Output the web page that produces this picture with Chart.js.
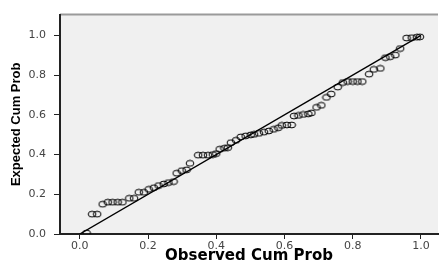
<!DOCTYPE html>
<html>
<head>
<meta charset="utf-8">
<script src="https://cdn.jsdelivr.net/npm/chart.js@4"></script>
<style>
  html, body { margin: 0; padding: 0; background: #fff; }
  #wrap { width: 443px; height: 264px; }
</style>
</head>
<body>
<div id="wrap"><canvas id="ppChart"></canvas></div>
<script>
// observed vs expected cumulative probability
const observedCumProb = [
  0.020, 0.036, 0.051, 0.067, 0.082, 0.096, 0.111, 0.125, 0.145, 0.159,
  0.173, 0.188, 0.202, 0.217, 0.231, 0.246, 0.260, 0.275, 0.284, 0.299,
  0.313, 0.323, 0.347, 0.361, 0.376, 0.390, 0.400, 0.410, 0.424, 0.434,
  0.443, 0.458, 0.472, 0.486, 0.501, 0.511, 0.525, 0.540, 0.554, 0.568,
  0.582, 0.592, 0.607, 0.621, 0.628, 0.641, 0.655, 0.670, 0.679, 0.694,
  0.708, 0.723, 0.737, 0.756, 0.771, 0.785, 0.800, 0.814, 0.828, 0.848,
  0.862, 0.881, 0.896, 0.910, 0.925, 0.939, 0.958, 0.973, 0.988, 0.997
];
const expectedCumProb = [
  0.005, 0.100, 0.100, 0.150, 0.160, 0.160, 0.160, 0.160, 0.180, 0.180,
  0.210, 0.210, 0.225, 0.233, 0.244, 0.252, 0.259, 0.264, 0.306, 0.319,
  0.323, 0.356, 0.397, 0.397, 0.397, 0.400, 0.405, 0.427, 0.432, 0.435,
  0.460, 0.472, 0.489, 0.494, 0.499, 0.502, 0.507, 0.513, 0.519, 0.527,
  0.535, 0.547, 0.549, 0.549, 0.594, 0.597, 0.602, 0.605, 0.610, 0.638,
  0.648, 0.688, 0.705, 0.740, 0.763, 0.768, 0.768, 0.768, 0.768, 0.805,
  0.829, 0.834, 0.888, 0.893, 0.901, 0.934, 0.987, 0.989, 0.991, 0.993
];
const refLineX = [0, 1];
const refLineY = [0, 1];
const tickValues = [0, 0.2, 0.4, 0.6, 0.8, 1.0];

const points = observedCumProb.map((x, i) => ({ x: x, y: expectedCumProb[i] }));
const refLine = refLineX.map((x, i) => ({ x: x, y: refLineY[i] }));

// hollow, slightly flattened circle like the SPSS marker
const marker = document.createElement('canvas');
marker.width = 10;
marker.height = 8;
const mctx = marker.getContext('2d');
mctx.strokeStyle = '#000';
mctx.lineWidth = 1;
mctx.beginPath();
mctx.ellipse(5, 4, 3.9, 2.9, 0, 0, Math.PI * 2);
mctx.stroke();

// grey plot background and the thin grey top frame
const plotFrame = {
  id: 'plotFrame',
  beforeDraw(chart) {
    const { ctx, chartArea: a } = chart;
    ctx.save();
    ctx.fillStyle = '#f0f0f0';
    ctx.fillRect(a.left, a.top, a.right - a.left, a.bottom - a.top);
    ctx.strokeStyle = '#9a9a9a';
    ctx.lineWidth = 2;
    ctx.beginPath();
    ctx.moveTo(a.left, a.top);
    ctx.lineTo(a.right, a.top);
    ctx.stroke();
    ctx.restore();
  }
};

const ctx = document.getElementById('ppChart').getContext('2d');
const ppChart = new Chart(ctx, {
  type: 'scatter',
  data: {
    datasets: [{
      label: 'Observed',
      data: points,
      pointStyle: marker,
      pointRadius: 4,
      pointHoverRadius: 4
    }, {
      type: 'line',
      label: 'Reference',
      data: refLine,
      borderColor: '#000',
      borderWidth: 1.4,
      pointRadius: 0,
      fill: false
    }]
  },
  options: {
    responsive: true,
    maintainAspectRatio: false,
    animation: false,
    layout: { padding: { top: 12, right: 0, left: 0, bottom: 0 } },
    plugins: {
      legend: { display: false },
      tooltip: { enabled: false }
    },
    scales: {
      x: {
        type: 'linear',
        min: -0.058,
        max: 1.05,
        afterFit: (s) => { s.height = 30; },
        afterBuildTicks: (s) => { s.ticks = tickValues.map(v => ({ value: v })); },
        border: { display: true, color: '#222', width: 2 },
        grid: { drawOnChartArea: false, drawTicks: true, tickLength: 5, color: '#222' },
        ticks: {
          padding: 1,
          color: '#444',
          font: { family: 'DejaVu Sans', size: 11 },
          callback: (v) => Number(v).toFixed(1)
        },
        title: {
          display: true,
          text: 'Observed Cum Prob',
          color: '#000',
          padding: 0,
          font: { family: 'DejaVu Sans', size: 15, weight: 'bold', lineHeight: 1 }
        }
      },
      y: {
        type: 'linear',
        min: 0,
        max: 1.105,
        afterFit: (s) => { s.width = 60; },
        afterBuildTicks: (s) => { s.ticks = tickValues.map(v => ({ value: v })); },
        border: { display: true, color: '#222', width: 2 },
        grid: { drawOnChartArea: false, drawTicks: true, tickLength: 6, color: '#222' },
        ticks: {
          padding: 8,
          color: '#444',
          font: { family: 'DejaVu Sans', size: 11 },
          callback: (v) => Number(v).toFixed(1)
        },
        title: {
          display: true,
          text: 'Expected Cum Prob',
          color: '#000',
          padding: { top: 9, bottom: 0 },
          font: { family: "'Liberation Sans', Arial", size: 13, weight: 'bold', lineHeight: 1.2 }
        }
      }
    }
  },
  plugins: [plotFrame]
});
</script>
</body>
</html>
